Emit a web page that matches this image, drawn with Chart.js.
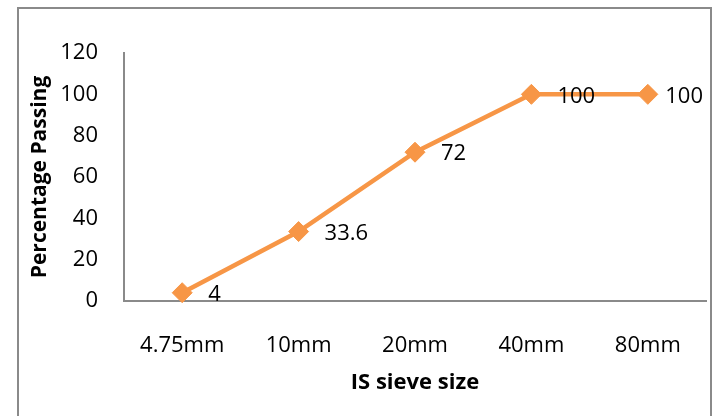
<!DOCTYPE html>
<html>
<head>
<meta charset="utf-8">
<script src="https://cdn.jsdelivr.net/npm/chart.js@4.4.1/dist/chart.umd.min.js"></script>
<style>
  html, body { margin: 0; padding: 0; background: #fff; }
  #wrap { width: 717px; height: 416px; }
</style>
</head>
<body>
<div id="wrap"><canvas id="sieveChart"></canvas></div>
<script>
const sieveSizes = ['4.75mm', '10mm', '20mm', '40mm', '80mm'];
const passing = [4, 33.6, 72, 100, 100];
const yTicks = [0, 20, 40, 60, 80, 100, 120];

const fontFam = "'Open Sans', 'Liberation Sans', sans-serif";

// outer frame round the whole chart
const frame = {
  id: 'frame',
  beforeDraw(chart) {
    const c = chart.ctx;
    c.save();
    c.strokeStyle = '#8a8a8a';
    c.lineWidth = 2;
    c.strokeRect(18, 8, 693, 430);
    c.restore();
  }
};

// value labels right of each point
const valueLabels = {
  id: 'valueLabels',
  afterDatasetsDraw(chart) {
    const c = chart.ctx;
    const meta = chart.getDatasetMeta(0);
    c.save();
    c.font = '22px ' + fontFam;
    c.fillStyle = '#000';
    c.textAlign = 'left';
    c.textBaseline = 'middle';
    meta.data.forEach((pt, i) => {
      const txt = String(passing[i]);
      const w = c.measureText(txt).width;
      let x = pt.x + 26;
      if (x + w > 703) x = 703 - w;
      c.fillText(txt, x, pt.y + 2);
    });
    c.restore();
  }
};

const ctx = document.getElementById('sieveChart').getContext('2d');
const myChart = new Chart(ctx, {
  type: 'line',
  data: {
    labels: sieveSizes,
    datasets: [{
      label: 'Percentage Passing',
      data: passing,
      borderColor: '#F79646',
      backgroundColor: '#F79646',
      borderWidth: 4.5,
      pointBorderWidth: 1,
      pointStyle: 'rectRot',
      pointRadius: 10,
      pointHoverRadius: 10,
      tension: 0,
      clip: false
    }]
  },
  options: {
    responsive: true,
    maintainAspectRatio: false,
    animation: false,
    layout: {
      padding: { left: 18, top: 53, right: 7, bottom: 0 }
    },
    plugins: {
      legend: { display: false },
      tooltip: { enabled: false }
    },
    scales: {
      x: {
        offset: true,
        grid: { display: false },
        border: { display: true, color: '#8a8a8a', width: 2 },
        ticks: {
          color: '#000',
          padding: 24,
          font: { family: fontFam, size: 22 }
        },
        title: {
          display: true,
          text: 'IS sieve size',
          color: '#000',
          font: { family: fontFam, size: 22, weight: 'bold' },
          padding: { top: 0, bottom: 20 }
        },
        afterFit(scale) { scale.height = 115; }
      },
      y: {
        min: 0,
        max: 120,
        grid: { display: false },
        border: { display: true, color: '#8a8a8a', width: 2 },
        afterBuildTicks(scale) {
          scale.ticks = yTicks.map(v => ({ value: v }));
        },
        ticks: {
          color: '#000',
          padding: 18,
          font: { family: fontFam, size: 22 }
        },
        title: {
          display: true,
          text: 'Percentage Passing',
          color: '#000',
          font: { family: fontFam, size: 21, weight: 'bold' },
          padding: { top: 9, bottom: 0 }
        },
        afterFit(scale) { scale.width = 106; }
      }
    }
  },
  plugins: [frame, valueLabels]
});
</script>
</body>
</html>
